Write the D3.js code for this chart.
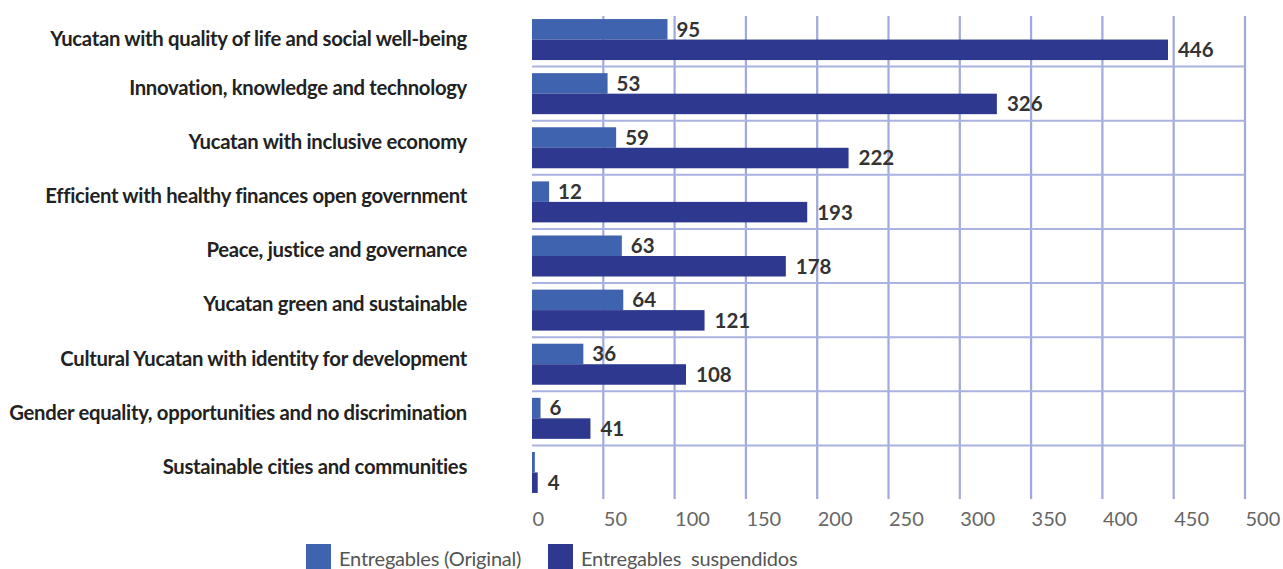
<!DOCTYPE html>
<html><head><meta charset="utf-8">
<script src="https://cdn.jsdelivr.net/npm/d3@7"></script>
<style>body{margin:0;background:#fff}svg{display:block}</style>
</head><body>
<script>
const categories = [
  "Yucatan with quality of life and social well-being",
  "Innovation, knowledge and technology",
  "Yucatan with inclusive economy",
  "Efficient with healthy finances open government",
  "Peace, justice and governance",
  "Yucatan green and sustainable",
  "Cultural Yucatan with identity for development",
  "Gender equality, opportunities and no discrimination",
  "Sustainable cities and communities"
];
const original = [95, 53, 59, 12, 63, 64, 36, 6, 2];
const originalLabels = ["95","53","59","12","63","64","36","6",""];
const suspended = [446, 326, 222, 193, 178, 121, 108, 41, 4];
const ticks = [0, 50, 100, 150, 200, 250, 300, 350, 400, 450, 500];
const seriesNames = ["Entregables (Original)", "Entregables  suspendidos"];
const colors = ["#3f63ae", "#2e388f"];

const W = 1283, H = 569;
const svg = d3.select("body").append("svg").attr("width", W).attr("height", H);

const x = d3.scaleLinear().domain([0, 500]).range([532, 1245]);
const y = d3.scaleBand().domain(categories).range([12, 499]).paddingInner(0).paddingOuter(0);
const barH = 20.5;
const fontLbl = "Lato, 'Open Sans', sans-serif";

// vertical gridlines
svg.append("g").selectAll("line").data(ticks.filter(t => t > 0)).join("line")
  .attr("x1", d => x(d)).attr("x2", d => x(d))
  .attr("y1", 16).attr("y2", 499)
  .attr("stroke", "#a0a9dc").attr("stroke-width", 2.2);
// horizontal separators
svg.append("g").selectAll("line").data(categories.slice(1)).join("line")
  .attr("x1", x(0)).attr("x2", x(500))
  .attr("y1", d => y(d) + 0.5).attr("y2", d => y(d) + 0.5)
  .attr("stroke", "#aab2e0").attr("stroke-width", 2);

const center = d => y(d) + y.bandwidth() / 2 + 0.5;

// bars
const g = svg.append("g");
g.selectAll(".o").data(categories).join("rect")
  .attr("x", x(0)).attr("y", d => center(d) - barH)
  .attr("width", (d, i) => x(original[i]) - x(0)).attr("height", barH)
  .attr("fill", colors[0]);
g.selectAll(".s").data(categories).join("rect")
  .attr("x", x(0)).attr("y", d => center(d))
  .attr("width", (d, i) => x(suspended[i]) - x(0)).attr("height", barH)
  .attr("fill", colors[1]);

// value labels
g.selectAll(".ol").data(categories).join("text")
  .attr("x", (d, i) => x(original[i]) + 9).attr("y", d => center(d) - barH / 2)
  .attr("dy", "0.36em")
  .attr("font-family", fontLbl).attr("font-weight", 700).attr("font-size", 20.5)
  .attr("fill", "#333").text((d, i) => originalLabels[i]);
g.selectAll(".sl").data(categories).join("text")
  .attr("x", (d, i) => x(suspended[i]) + 10).attr("y", d => center(d) + barH / 2)
  .attr("dy", "0.36em")
  .attr("font-family", fontLbl).attr("font-weight", 700).attr("font-size", 20.5)
  .attr("fill", "#333").text((d, i) => suspended[i]);

// category labels
svg.append("g").selectAll("text").data(categories).join("text")
  .attr("x", 467).attr("y", (d, i) => center(d) - (i === 0 ? 1 : 6))
  .attr("dy", "0.36em").attr("text-anchor", "end")
  .attr("font-family", fontLbl).attr("font-weight", 700).attr("font-size", 20.3)
  .attr("fill", "#222").attr("letter-spacing", -0.3).text(d => d);

// x axis tick labels
const axis = d3.axisBottom(x).tickValues(ticks).tickSize(0).tickPadding(0);
const ax = svg.append("g").attr("transform", "translate(0,512)").call(axis);
ax.select(".domain").remove();
ax.selectAll("text").attr("text-anchor", "start").attr("dy", "0.71em")
  .attr("font-family", fontLbl).attr("font-size", 20).attr("fill", "#666");

// legend
const leg = svg.append("g");
const legX = [306, 548];
seriesNames.forEach((n, i) => {
  leg.append("rect").attr("x", legX[i]).attr("y", 544).attr("width", 25).attr("height", 25).attr("fill", colors[i]);
  leg.append("text").attr("x", legX[i] + 33).attr("y", 566)
    .attr("font-family", fontLbl).attr("font-size", 20).attr("fill", "#555")
    .attr("letter-spacing", -0.2)
    .attr("xml:space", "preserve").style("white-space", "pre").text(n);
});
</script>
</body></html>
